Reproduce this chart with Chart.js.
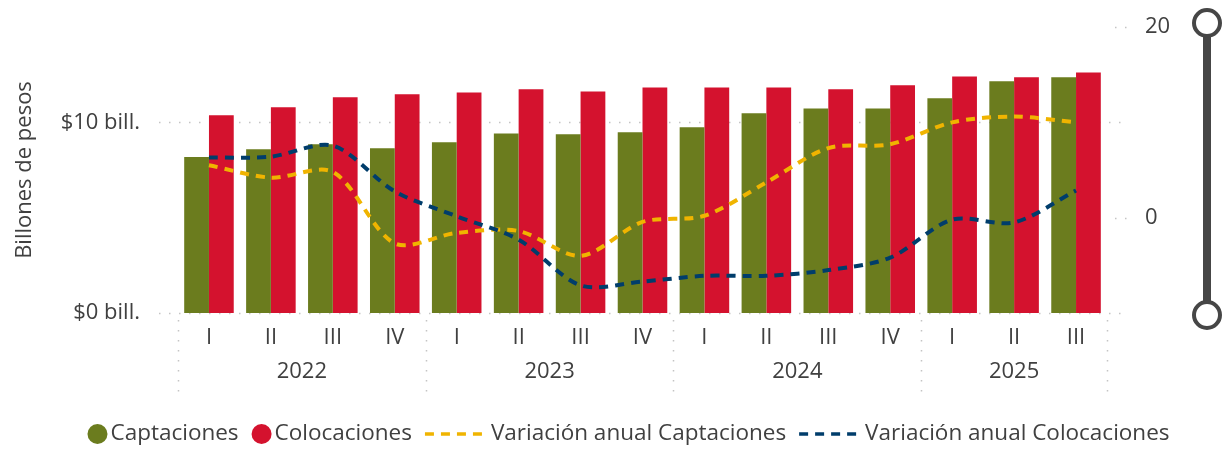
<!DOCTYPE html>
<html>
<head>
<meta charset="utf-8">
<script src="https://cdn.jsdelivr.net/npm/chart.js@4.4.1/dist/chart.umd.min.js"></script>
<style>
    html, body { margin: 0; padding: 0; background: #fff; overflow: hidden; }
    #wrap { position: relative; width: 1229px; height: 451px; }
</style>
</head>
<body>
<div id="wrap"><canvas id="chart"></canvas></div>
<script>
// Quarterly data, billions of pesos (bars) and annual variation % (lines)
const quarters = ['I', 'II', 'III', 'IV', 'I', 'II', 'III', 'IV', 'I', 'II', 'III', 'IV', 'I', 'II', 'III'];
const years = ['2022', '2022', '2022', '2022', '2023', '2023', '2023', '2023', '2024', '2024', '2024', '2024', '2025', '2025', '2025'];
const captaciones = [8.18, 8.59, 8.85, 8.64, 8.95, 9.42, 9.37, 9.48, 9.74, 10.47, 10.73, 10.73, 11.26, 12.15, 12.36];
const colocaciones = [10.37, 10.79, 11.31, 11.47, 11.57, 11.73, 11.62, 11.83, 11.83, 11.83, 11.73, 11.94, 12.41, 12.36, 12.62];
const varCaptaciones = [5.5, 4.2, 4.8, -2.7, -1.6, -1.4, -4.0, -0.45, 0.2, 3.7, 7.3, 7.7, 10.0, 10.6, 10.0];
const varColocaciones = [6.3, 6.4, 7.55, 2.75, 0.15, -2.3, -7.1, -6.7, -6.1, -6.1, -5.5, -4.2, -0.2, -0.5, 2.85];
const leftTicks = [0, 10];
const rightTicks = [0, 20];

const FONT = "'Open Sans', 'Noto Sans', sans-serif";
const TEXT = '#404040';
const DOTS = '#c4c4c4';
const colors = {
    captaciones: '#6b7c1e',
    colocaciones: '#d4122e',
    varCaptaciones: '#f0b400',
    varColocaciones: '#003d6b'
};

const legendItems = [
    { label: 'Captaciones', color: colors.captaciones, type: 'circle' },
    { label: 'Colocaciones', color: colors.colocaciones, type: 'circle' },
    { label: 'Variación anual Captaciones', color: colors.varCaptaciones, type: 'dash' },
    { label: 'Variación anual Colocaciones', color: colors.varColocaciones, type: 'dash' }
];

function dottedLine(ctx, x1, y1, x2, y2) {
    ctx.save();
    ctx.strokeStyle = DOTS;
    ctx.lineWidth = 1.5;
    ctx.setLineDash([1.5, 8.5]);
    ctx.beginPath();
    ctx.moveTo(x1, y1);
    ctx.lineTo(x2, y2);
    ctx.stroke();
    ctx.restore();
}

// dotted grid lines behind the bars
const gridPlugin = {
    id: 'dottedGrid',
    beforeDatasetsDraw(chart) {
        const { ctx, chartArea, scales } = chart;
        leftTicks.forEach(v => {
            const y = Math.round(scales.y.getPixelForValue(v)) + 0.5;
            dottedLine(ctx, chartArea.left - 19, y, chartArea.right + 14, y);
        });
        rightTicks.forEach(v => {
            const y = Math.round(scales.y1.getPixelForValue(v)) + 0.5;
            dottedLine(ctx, chartArea.right + 8, y, chartArea.right + 22, y);
        });
    }
};

// year row, group separators, legend and the range slider
const extrasPlugin = {
    id: 'extras',
    afterDraw(chart) {
        const { ctx, chartArea, scales } = chart;
        const x = scales.x;
        const half = (x.getPixelForValue(1) - x.getPixelForValue(0)) / 2;

        // year groups
        const groups = [];
        years.forEach((yr, i) => {
            const g = groups[groups.length - 1];
            if (g && g.year === yr) g.last = i;
            else groups.push({ year: yr, first: i, last: i });
        });
        ctx.save();
        ctx.font = '22px ' + FONT;
        ctx.fillStyle = TEXT;
        ctx.textAlign = 'center';
        ctx.textBaseline = 'middle';
        groups.forEach((g, k) => {
            const x1 = x.getPixelForValue(g.first) - half;
            const x2 = x.getPixelForValue(g.last) + half;
            ctx.fillText(g.year, (x1 + x2) / 2, 372);
            dottedLine(ctx, Math.round(x1) + 0.5, chartArea.bottom + 7, Math.round(x1) + 0.5, 393);
            if (k === groups.length - 1) {
                dottedLine(ctx, Math.round(x2) + 0.5, chartArea.bottom + 7, Math.round(x2) + 0.5, 393);
            }
        });
        ctx.restore();

        // legend
        ctx.save();
        ctx.font = '22.5px ' + FONT;
        ctx.textBaseline = 'middle';
        const markW = it => it.type === 'circle' ? 20 : 61;
        const gapW = it => it.type === 'circle' ? 3 : 5;
        const spacing = 13;
        let total = 0;
        legendItems.forEach((it, i) => {
            total += markW(it) + gapW(it) + ctx.measureText(it.label).width;
            if (i < legendItems.length - 1) total += spacing;
        });
        let lx = chart.width / 2 - total / 2 + 14;
        const ly = 434;
        legendItems.forEach(it => {
            if (it.type === 'circle') {
                ctx.fillStyle = it.color;
                ctx.beginPath();
                ctx.arc(lx + 10, ly, 10, 0, Math.PI * 2);
                ctx.fill();
            } else {
                ctx.strokeStyle = it.color;
                ctx.lineWidth = 3.5;
                ctx.setLineDash([9, 7]);
                ctx.beginPath();
                ctx.moveTo(lx, ly);
                ctx.lineTo(lx + markW(it), ly);
                ctx.stroke();
                ctx.setLineDash([]);
            }
            lx += markW(it) + gapW(it);
            ctx.fillStyle = TEXT;
            ctx.textAlign = 'left';
            ctx.fillText(it.label, lx, ly);
            lx += ctx.measureText(it.label).width + spacing;
        });
        ctx.restore();

        // zoom slider on the right
        const sx = 1207;
        const sTop = chartArea.top - 4;
        const sBot = chartArea.bottom + 2;
        ctx.save();
        ctx.strokeStyle = '#464646';
        ctx.lineWidth = 8;
        ctx.beginPath();
        ctx.moveTo(sx, sTop);
        ctx.lineTo(sx, sBot);
        ctx.stroke();
        ctx.lineWidth = 4;
        ctx.fillStyle = '#ffffff';
        [sTop, sBot].forEach(cy => {
            ctx.beginPath();
            ctx.arc(sx, cy, 13, 0, Math.PI * 2);
            ctx.fill();
            ctx.stroke();
        });
        ctx.restore();
    }
};

function noEdgePadding(scale) {
    scale.paddingTop = 0;
    scale.paddingBottom = 0;
}

const ctx = document.getElementById('chart');
new Chart(ctx, {
    data: {
        labels: quarters,
        datasets: [
            {
                type: 'line',
                label: 'Variación anual Colocaciones',
                data: varColocaciones,
                yAxisID: 'y1',
                borderColor: colors.varColocaciones,
                borderWidth: 4,
                borderDash: [9, 7],
                pointRadius: 0,
                tension: 0.3,
                order: 1
            },
            {
                type: 'line',
                label: 'Variación anual Captaciones',
                data: varCaptaciones,
                yAxisID: 'y1',
                borderColor: colors.varCaptaciones,
                borderWidth: 4,
                borderDash: [9, 7],
                pointRadius: 0,
                tension: 0.3,
                order: 1
            },
            {
                type: 'bar',
                label: 'Captaciones',
                data: captaciones,
                yAxisID: 'y',
                backgroundColor: colors.captaciones,
                categoryPercentage: 0.8,
                barPercentage: 1.0,
                order: 2
            },
            {
                type: 'bar',
                label: 'Colocaciones',
                data: colocaciones,
                yAxisID: 'y',
                backgroundColor: colors.colocaciones,
                categoryPercentage: 0.8,
                barPercentage: 1.0,
                order: 2
            }
        ]
    },
    options: {
        responsive: true,
        maintainAspectRatio: false,
        animation: false,
        layout: { padding: { top: 27, left: 0, right: 0, bottom: 0 } },
        plugins: {
            legend: { display: false },
            tooltip: { enabled: false }
        },
        scales: {
            x: {
                type: 'category',
                offset: true,
                grid: { display: false, drawTicks: false },
                border: { display: false },
                ticks: {
                    color: TEXT,
                    font: { family: FONT, size: 22 },
                    padding: 12,
                    maxRotation: 0,
                    autoSkip: false
                },
                afterFit(scale) {
                    scale.height = 138;
                    scale.paddingLeft = 0;
                    scale.paddingRight = 0;
                }
            },
            y: {
                position: 'left',
                min: 0,
                max: 15,
                grid: { display: false, drawTicks: false },
                border: { display: false },
                afterBuildTicks(scale) { scale.ticks = leftTicks.map(v => ({ value: v })); },
                ticks: {
                    color: TEXT,
                    font: { family: FONT, size: 22 },
                    padding: 38,
                    callback: v => '$' + v + ' bill.'
                },
                title: {
                    display: true,
                    text: 'Billones de pesos',
                    color: TEXT,
                    font: { family: FONT, size: 22 },
                    padding: { top: 12, bottom: 0 }
                },
                afterFit(scale) {
                    scale.width = 178;
                    noEdgePadding(scale);
                }
            },
            y1: {
                position: 'right',
                min: -10,
                max: 20,
                grid: { display: false, drawTicks: false },
                border: { display: false },
                afterBuildTicks(scale) { scale.ticks = rightTicks.map(v => ({ value: v })); },
                ticks: {
                    color: TEXT,
                    font: { family: FONT, size: 22 },
                    padding: 38
                },
                afterFit(scale) {
                    scale.width = 122;
                    noEdgePadding(scale);
                }
            }
        }
    },
    plugins: [gridPlugin, extrasPlugin]
});
</script>
</body>
</html>
